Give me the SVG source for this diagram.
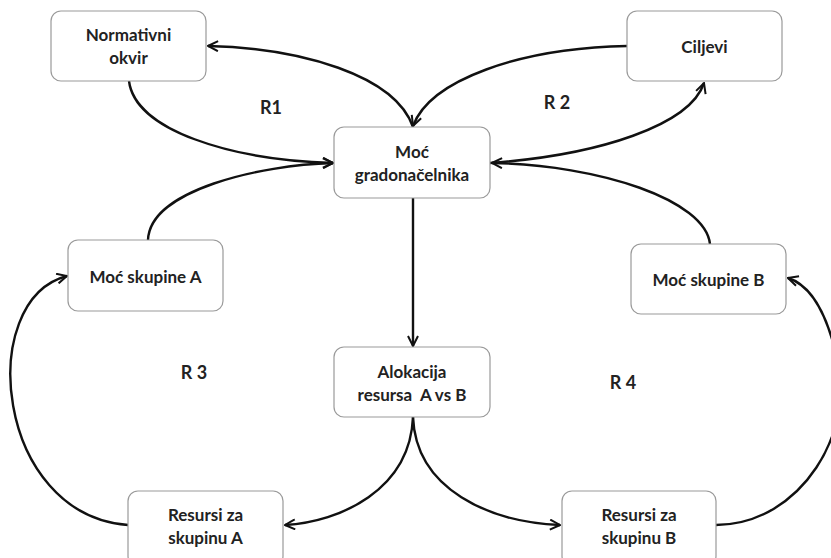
<svg xmlns="http://www.w3.org/2000/svg" width="831" height="558" viewBox="0 0 831 558">
<style>
.box{fill:#fff;stroke:#9a9a9a;stroke-width:1.2}
.t{font-family:Lato,"Open Sans","Liberation Sans",sans-serif;font-weight:bold;font-size:17px;fill:#222;text-anchor:middle;white-space:pre}
.lbl{font-family:Lato,"Open Sans","Liberation Sans",sans-serif;font-weight:bold;font-size:18px;fill:#222;text-anchor:middle}
.c{fill:none;stroke:#111;stroke-width:2.4;marker-end:url(#a)}
</style>
<defs>
<marker id="a" viewBox="0 0 12 12" refX="11" refY="6" markerWidth="5" markerHeight="5" orient="auto" markerUnits="strokeWidth">
<path d="M1,1 L11,6 L1,11" fill="none" stroke="#111" stroke-width="2"/>
</marker>
</defs>
<rect width="831" height="558" fill="#fff"/>
<g id="connectors">
<path class="c" d="M413,127 C395,75 300,48 208,46"/>
<path class="c" d="M627,46 C520,48 430,80 413,126"/>
<path class="c" d="M129,81 C135,130 230,160 333,163"/>
<path class="c" d="M148,240 C150,190 260,165 333,163"/>
<path class="c" d="M490,163 C600,155 690,125 704,83"/>
<path class="c" d="M710,244 C705,200 600,165 492,163"/>
<path class="c" d="M413,198 L413,346"/>
<path class="c" d="M413,417 C410,490 340,522 285,525"/>
<path class="c" d="M413,417 C416,490 490,522 560,525"/>
<path class="c" d="M128,525 C-5,515 -25,300 67,276"/>
<path class="c" d="M716,525 C800,525 860,430 835,350 C825,310 810,285 788,278"/>
</g>
<g id="normativni">
<rect class="box" x="51" y="11" width="155" height="70" rx="10"/>
<text class="t" x="128.5" y="41">Normativni</text>
<text class="t" x="128.5" y="64">okvir</text>
</g>
<g id="ciljevi">
<rect class="box" x="627" y="11" width="155" height="70" rx="10"/>
<text class="t" x="704.5" y="53">Ciljevi</text>
</g>
<g id="moc-gradonacelnika">
<rect class="box" x="334" y="127" width="156" height="71" rx="10"/>
<text class="t" x="412" y="158">Moć</text>
<text class="t" x="412" y="181">gradonačelnika</text>
</g>
<g id="moc-a">
<rect class="box" x="68" y="240" width="155" height="71" rx="10"/>
<text class="t" x="145.5" y="283">Moć skupine A</text>
</g>
<g id="moc-b">
<rect class="box" x="631" y="244" width="155" height="70" rx="10"/>
<text class="t" x="708.5" y="286">Moć skupine B</text>
</g>
<g id="alokacija">
<rect class="box" x="334" y="347" width="156" height="70" rx="10"/>
<text class="t" x="412" y="378">Alokacija</text>
<text class="t" x="412" y="401">resursa  A vs B</text>
</g>
<g id="resursi-a">
<rect class="box" x="128" y="491" width="155" height="75" rx="10"/>
<text class="t" x="205.5" y="521">Resursi za</text>
<text class="t" x="205.5" y="544">skupinu A</text>
</g>
<g id="resursi-b">
<rect class="box" x="562" y="491" width="154" height="75" rx="10"/>
<text class="t" x="639" y="521">Resursi za</text>
<text class="t" x="639" y="544">skupinu B</text>
</g>
<g id="labels">
<text class="lbl" x="271" y="114">R1</text>
<text class="lbl" x="557" y="109">R 2</text>
<text class="lbl" x="194" y="379">R 3</text>
<text class="lbl" x="623" y="389">R 4</text>
</g>
</svg>
